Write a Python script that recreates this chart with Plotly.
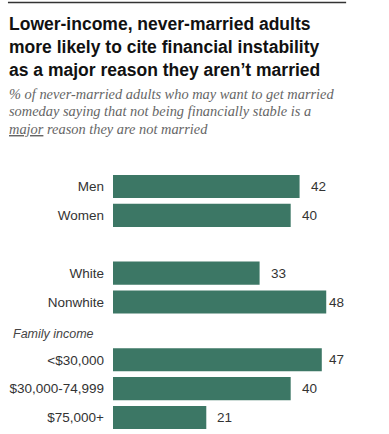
import plotly.graph_objects as go

categories = ["Men", "Women", "White", "Nonwhite", "<$30,000", "$30,000-74,999", "$75,000+"]
values = [42, 40, 33, 48, 47, 40, 21]
row_pos = [0, 1, 3, 4, 6, 7, 8]
label_shift = [9, 9, 9, 1, 5, 9, 9]
group_header = "Family income"
header_pos = 5.1

title_lines = ["Lower-income, never-married adults",
               "more likely to cite financial instability",
               "as a major reason they aren\u2019t married"]
sub_lines = ["% of never-married adults who may want to get married",
             "someday saying that not being financially stable is a",
             "<u>major</u> reason they are not married"]

W, H = 389, 434
ML, MT, MB = 113, 172, 2
XMAX = 52
PX_PER_UNIT = 4.44
PW = XMAX * PX_PER_UNIT
MR = W - ML - PW
PH = H - MT - MB

BAR = "#3c7765"

fig = go.Figure()
fig.add_trace(go.Bar(
    x=values, y=row_pos, orientation="h",
    marker=dict(color=BAR, line=dict(width=0)),
    width=0.8, hoverinfo="skip",
))

for v, p, s in zip(values, row_pos, label_shift):
    fig.add_annotation(x=v, y=p, xref="x", yref="y", text=str(v), showarrow=False,
                       xanchor="left", yanchor="middle", xshift=s,
                       font=dict(family="Liberation Sans, Arial", size=13.5, color="#333"))

fig.add_annotation(x=0, y=header_pos, xref="paper", yref="y", text="<i>" + group_header + "</i>",
                   showarrow=False, xanchor="left", yanchor="middle", xshift=-(ML - 11),
                   font=dict(family="Liberation Sans, Arial", size=12.5, color="#444"))

def py(px_from_top):
    return 1 + (MT - px_from_top) / PH

def pxx(px):
    return (px - ML) / PW

for i, line in enumerate(title_lines):
    fig.add_annotation(x=pxx(7), y=py(24 + 23 * i), xref="paper", yref="paper",
                       text="<b>" + line + "</b>",
                       showarrow=False, xanchor="left", yanchor="middle", align="left",
                       font=dict(family="Liberation Sans, Arial", size=17.5, color="#111"))

for i, line in enumerate(sub_lines):
    fig.add_annotation(x=pxx(7), y=py(94 + 17.5 * i), xref="paper", yref="paper",
                       text="<i>" + line + "</i>",
                       showarrow=False, xanchor="left", yanchor="middle", align="left",
                       font=dict(family="Liberation Serif, serif", size=14.4, color="#666"))

fig.add_shape(type="line", xref="paper", yref="paper",
              x0=pxx(8), x1=pxx(346), y0=py(2.5), y1=py(2.5),
              line=dict(color="#333", width=1.5))

fig.update_layout(
    width=W, height=H,
    margin=dict(l=ML, r=MR, t=MT, b=MB, pad=0),
    paper_bgcolor="white", plot_bgcolor="white",
    showlegend=False,
    xaxis=dict(range=[0, XMAX], visible=False, fixedrange=True),
    yaxis=dict(range=[8.5, -0.5], tickvals=row_pos, ticktext=categories,
               showgrid=False, zeroline=False, showline=False, ticks="",
               ticklabelstandoff=8,
               tickfont=dict(family="Liberation Sans, Arial", size=13.5, color="#333"),
               fixedrange=True),
)

fig.write_html("out.html", config={"displayModeBar": False},
               post_script="document.body.style.margin='0';")
